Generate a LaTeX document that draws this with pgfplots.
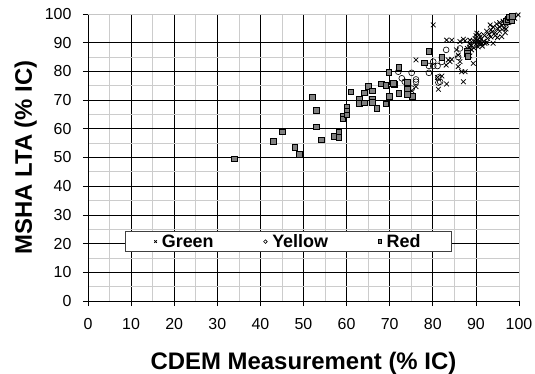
\documentclass[border=0pt]{standalone}
\usepackage{fontspec}
\setmainfont{Liberation Sans}
\usepackage{pgfplots}
\pgfplotsset{compat=1.18}
\pgfplotstableread{
x y
80.1 96.2
76.1 84.0
76.1 74.7
75.1 73.3
81.3 73.8
83.2 75.6
82.1 78.4
81.1 77.9
83.1 82.2
84.0 83.4
84.4 84.2
83.6 84.0
83.2 90.9
84.4 90.9
86.3 90.4
87.5 90.7
88.6 90.9
85.5 87.5
85.9 85.7
86.3 83.4
85.9 81.7
86.7 79.9
87.5 79.9
89.4 82.8
87.1 76.4
87.1 91.2
88.6 85.4
88.0 88.0
89.0 89.0
89.5 90.5
90.0 89.5
90.3 90.0
90.5 91.0
90.8 89.8
91.0 90.5
91.2 91.2
91.4 89.6
90.0 92.5
90.2 93.3
91.0 92.0
92.1 89.8
94.0 89.8
92.0 92.5
92.5 94.0
93.0 93.0
93.3 96.2
93.5 94.5
94.0 95.5
94.5 93.5
94.8 96.5
95.0 95.0
95.5 97.0
95.5 94.0
96.0 92.1
96.0 96.0
96.3 97.5
96.5 95.0
97.0 96.5
97.0 94.8
97.5 97.0
98.0 98.0
98.5 97.5
99.0 98.5
99.8 99.7
92.7 91.5
89.0 87.5
88.5 89.5
91.5 88.8
88.5 88.5
89.5 88.2
90.5 88.5
91.8 90.5
92.5 90.0
93.5 92.0
94.5 92.5
95.5 95.5
96.5 96.8
97.2 98.0
97.8 97.3
96.8 93.5
95.0 91.8
93.8 93.8
89.8 91.5
90.8 92.8
}\green
\pgfplotstableread{
x y
72.0 79.9
72.8 77.6
73.5 76.4
74.1 75.3
75.1 79.5
75.1 74.0
76.1 77.2
76.1 76.4
79.1 79.5
79.1 81.9
80.1 81.9
80.1 83.4
81.1 81.9
82.1 83.3
83.1 87.5
81.3 77.9
81.7 76.4
81.3 76.1
85.9 85.0
82.1 84.8
86.3 88.0
89.5 89.0
90.5 90.0
}\yellow
\pgfplotstableread{
x y
33.9 49.5
43.0 55.7
45.1 58.9
48.0 53.5
49.0 51.1
52.1 71.0
53.0 66.4
53.0 60.7
54.1 56.1
57.1 57.4
58.2 58.9
58.2 57.0
59.1 64.5
59.1 63.5
60.1 67.4
60.1 66.0
60.1 64.8
61.0 72.9
63.0 70.3
63.0 68.9
64.1 69.1
64.1 72.5
65.0 74.7
66.0 73.2
66.0 70.4
66.0 69.3
67.0 67.1
68.0 75.6
69.1 75.2
69.1 68.7
69.9 71.4
69.8 79.6
71.1 75.4
72.1 81.4
70.9 75.9
74.1 73.8
75.2 71.4
72.1 72.4
74.1 72.1
74.1 76.1
79.1 86.9
78.0 83.0
82.1 84.9
88.0 87.2
88.0 86.2
88.1 85.3
97.0 97.5
97.5 98.2
98.0 98.8
98.3 97.8
97.8 99.0
98.5 99.2
}\red
\begin{document}
\begin{tikzpicture}
\begin{axis}[
  at={(0,0)}, anchor=south west,
  scale only axis, width=431bp, height=287bp,
  xmin=0, xmax=100, ymin=0, ymax=100,
  xtick={0,10,...,90}, ytick={0,10,...,90},
  extra x ticks={100}, extra y ticks={100},
  extra tick style={major grid style={gray!45, line width=0.8bp}},
  minor x tick num=1, minor y tick num=1,
  grid=both,
  major grid style={black, line width=0.7bp},
  minor grid style={gray!40, line width=0.7bp},
  axis x line*=bottom, axis y line*=left,
  axis line style={-, black, line width=0.8bp},
  tick align=outside,
  major tick length=5bp, minor tick length=0bp,
  major tick style={black, line width=0.7bp},
  /pgf/number format/assume math mode=true,
  ticklabel style={font=\fontsize{16}{17}\selectfont},
  xticklabel style={yshift=-9bp},
  yticklabel style={xshift=-8bp},
  xlabel={CDEM Measurement (\% IC)},
  ylabel={MSHA LTA (\% IC)},
  every axis x label/.style={at={(axis description cs:0.5,-0.24)}, anchor=base,
    font=\bfseries\fontsize{24}{25}\selectfont},
  every axis y label/.style={at={(axis description cs:-0.13,0.5)}, rotate=90, anchor=base,
    font=\bfseries\fontsize{24}{25}\selectfont},
  legend columns=3,
  legend style={at={(axis cs:46.5,20.7)}, anchor=center,
    draw=black!75, line width=0.8bp, fill=white,
    font=\bfseries\fontsize{18}{19}\selectfont,
    inner xsep=29bp, inner ysep=1bp,
    /tikz/every odd column/.append style={column sep=3bp},
    /tikz/every even column/.append style={column sep=48bp}},
  legend image code/.code={\draw[#1] plot coordinates {(0bp,0bp)};},
  legend image post style={mark size=1.8bp},
]
\addplot[only marks, mark=x, mark size=3.3bp, black, line width=0.75bp] table {\green};
\addlegendentry{Green}
\addplot[only marks, mark=o, mark size=2.9bp, black, line width=0.6bp] table {\yellow};
\addlegendentry{Yellow}
\addplot[only marks, mark=square*, mark size=2.8bp, draw=black, fill=gray, line width=0.7bp] table {\red};
\addlegendentry{Red}
\end{axis}
\pgfresetboundingbox
\path (-88bp,-73bp) rectangle (447bp,301bp);
\end{tikzpicture}
\end{document}
